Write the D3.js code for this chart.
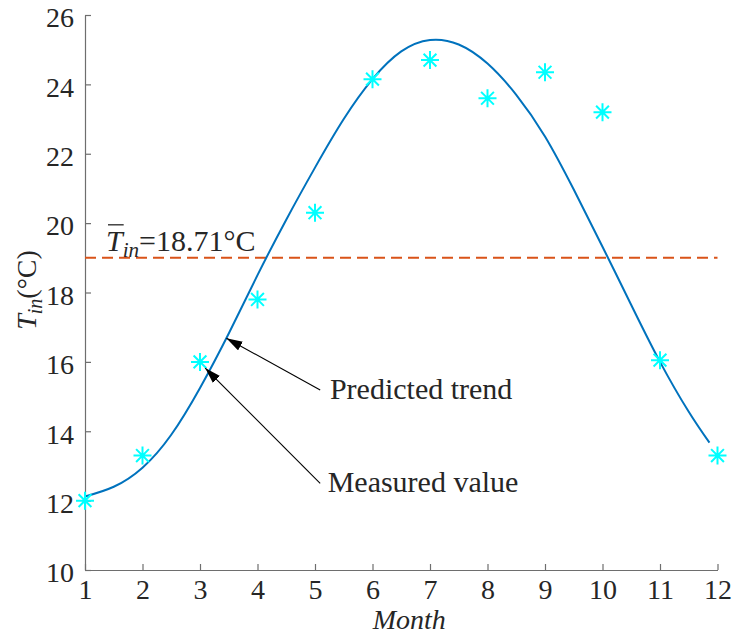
<!DOCTYPE html>
<html>
<head>
<meta charset="utf-8">
<script src="https://cdn.jsdelivr.net/npm/d3@7"></script>
<style>
  body { margin: 0; background: #fff; }
  text { font-family: "Liberation Serif", "Times New Roman", serif; fill: #262626; }
</style>
</head>
<body>
<div id="chart"></div>
<script>
// measured monthly indoor temperature
const months = [1, 2, 3, 4, 5, 6, 7, 8, 9, 10, 11, 12];
const measured = [12.0, 13.3, 16.0, 17.8, 20.3, 24.15, 24.7, 23.6, 24.35, 23.2, 16.05, 13.3];

// predicted trend
const trendMonths = [1, 1.5, 2, 2.5, 3, 3.5, 4, 4.5, 5, 5.5, 6, 6.5, 7, 7.5, 8, 8.5, 9, 9.5, 10, 10.5, 11, 11.5, 11.86];
const trendValues = [12.12, 12.4, 12.95, 13.9, 15.25, 16.82, 18.5, 20.1, 21.6, 23.0, 24.15, 24.95, 25.28, 25.15, 24.6, 23.7, 22.5, 20.97, 19.32, 17.64, 16.0, 14.56, 13.67];

const meanLevel = 19;
const meanLabel = "18.71\u00B0C";

const xTicks = [1, 2, 3, 4, 5, 6, 7, 8, 9, 10, 11, 12];
const yTicks = [10, 12, 14, 16, 18, 20, 22, 24, 26];

// arrow annotations, in data units
const notes = [
  { label: "Predicted trend", tip: [3.46, 16.68], tail: [5.09, 15.19], at: [5.26, 14.93] },
  { label: "Measured value", tip: [3.09, 15.82], tail: [5.09, 12.5], at: [5.22, 12.26] }
];

const W = 740, H = 635;
const x = d3.scaleLinear().domain([1, 12]).range([85, 717.5]);
const y = d3.scaleLinear().domain([10, 26]).range([570, 15]);

const svg = d3.select("#chart").append("svg")
  .attr("width", W).attr("height", H);

svg.append("defs").append("marker")
  .attr("id", "head")
  .attr("markerUnits", "userSpaceOnUse")
  .attr("viewBox", "0 0 16 10")
  .attr("markerWidth", 16).attr("markerHeight", 10)
  .attr("refX", 16).attr("refY", 5)
  .attr("orient", "auto")
  .append("path").attr("d", "M0,0 L16,5 L0,10 Z").attr("fill", "#000");

// axes (box off, ticks pointing in)
const xAxis = svg.append("g")
  .attr("transform", `translate(0,${y(10)})`)
  .call(d3.axisBottom(x).tickValues(xTicks).tickSizeInner(-6).tickSizeOuter(0).tickPadding(9));
const yAxis = svg.append("g")
  .attr("transform", `translate(${x(1)},0)`)
  .call(d3.axisLeft(y).tickValues(yTicks).tickSizeInner(-6).tickSizeOuter(0).tickPadding(11));

[xAxis, yAxis].forEach(g => {
  g.select(".domain").attr("stroke", "#6e6e6e").attr("stroke-width", 1.2);
  g.selectAll(".tick line").attr("stroke", "#6e6e6e").attr("stroke-width", 1.2);
  g.selectAll(".tick text")
    .attr("fill", "#262626")
    .style("font-family", "'Liberation Serif', 'Times New Roman', serif")
    .style("font-size", "28px");
});
yAxis.selectAll(".tick text").attr("dy", "0.42em");

// mean line
svg.append("line")
  .attr("x1", x(1)).attr("x2", x(12))
  .attr("y1", y(meanLevel)).attr("y2", y(meanLevel))
  .attr("stroke", "#D95319").attr("stroke-width", 2)
  .attr("stroke-dasharray", "11,6");

const mt = svg.append("text")
  .attr("x", x(1) + 21).attr("y", y(meanLevel) - 7)
  .style("font-size", "30px");
const tBar = mt.append("tspan").attr("font-style", "italic").text("T");
mt.append("tspan").attr("font-style", "italic").attr("dy", 6)
  .style("font-size", "21px").text("in");
mt.append("tspan").attr("dy", -6).text("=" + meanLabel);

// thin bar over T
const tb = tBar.node().getExtentOfChar(0);
svg.append("line")
  .attr("x1", tb.x + 2).attr("x2", tb.x + tb.width + 1)
  .attr("y1", y(meanLevel) - 33).attr("y2", y(meanLevel) - 33)
  .attr("stroke", "#262626").attr("stroke-width", 1.3);

// predicted trend
const pts = trendMonths.map((m, i) => [m, trendValues[i]]);
svg.append("path")
  .datum(pts)
  .attr("fill", "none")
  .attr("stroke", "#0072BD")
  .attr("stroke-width", 2)
  .attr("d", d3.line().x(d => x(d[0])).y(d => y(d[1])).curve(d3.curveNatural));

// measured markers '*'
const star = "M0,-9V9M-9,0H9M-6.4,-6.4L6.4,6.4M-6.4,6.4L6.4,-6.4";
svg.selectAll(".pt")
  .data(months.map((m, i) => [m, measured[i]]))
  .enter().append("path")
  .attr("class", "pt")
  .attr("transform", d => `translate(${x(d[0])},${y(d[1])})`)
  .attr("d", star)
  .attr("stroke", "#00FFFF")
  .attr("stroke-width", 2)
  .attr("fill", "none");

// annotations
notes.forEach(n => {
  svg.append("line")
    .attr("x1", x(n.tail[0])).attr("y1", y(n.tail[1]))
    .attr("x2", x(n.tip[0])).attr("y2", y(n.tip[1]))
    .attr("stroke", "#000").attr("stroke-width", 1.1)
    .attr("marker-end", "url(#head)");
  svg.append("text")
    .attr("x", x(n.at[0])).attr("y", y(n.at[1]))
    .style("font-size", "30px")
    .text(n.label);
});

// axis labels
svg.append("text")
  .attr("x", (x(1) + x(12)) / 2 + 8).attr("y", 629)
  .attr("text-anchor", "middle")
  .attr("font-style", "italic")
  .style("font-size", "28px")
  .text("Month");

const yl = svg.append("text")
  .attr("transform", `translate(36,290) rotate(-90)`)
  .attr("text-anchor", "middle")
  .style("font-size", "28px");
yl.append("tspan").attr("font-style", "italic").text("T");
yl.append("tspan").attr("font-style", "italic").attr("dy", 6)
  .style("font-size", "20px").text("in");
yl.append("tspan").attr("dy", -6).text("(\u00B0C)");
</script>
</body>
</html>
